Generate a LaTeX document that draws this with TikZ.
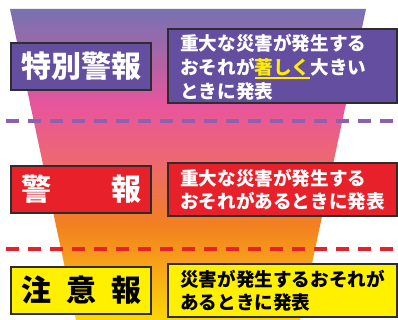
\documentclass[tikz,border=0pt]{standalone}
\usepackage{fontspec}
\newfontfamily\jp{Noto Sans CJK JP}
\definecolor{g0}{HTML}{7672B2}
\definecolor{g1}{HTML}{A267A8}
\definecolor{g2}{HTML}{E8559C}
\definecolor{g3}{HTML}{EE6A6C}
\definecolor{g4}{HTML}{F2801F}
\definecolor{g5}{HTML}{F9A818}
\definecolor{g6}{HTML}{FDD800}
\definecolor{purp}{HTML}{634EA0}
\definecolor{dpurp}{HTML}{8C62B0}
\definecolor{wred}{HTML}{E8202A}
\definecolor{wyel}{HTML}{FFF000}
\definecolor{hiyel}{HTML}{FFEC00}
\definecolor{bord}{HTML}{2D2D2D}
\newcommand{\myul}[1]{\setbox0\hbox{#1}\rlap{\raisebox{-4.5pt}{\rule{\wd0}{1.3pt}}}\box0}
\tikzset{
  titlebox/.style={draw=bord, line width=1.5pt, minimum width=140pt, minimum height=47pt, inner sep=0pt, font=\jp\bfseries\fontsize{30}{30}\selectfont},
  descbox/.style={draw=bord, line width=1.5pt, inner sep=0pt},
  desctext/.style={anchor=west, inner sep=0pt, align=left, font=\jp\bfseries\fontsize{18.6}{23}\selectfont},
  sep/.style={line width=4pt, dash pattern=on 13pt off 9pt}
}
\begin{document}
\begin{tikzpicture}[x=1pt,y=-1pt]
\useasboundingbox (0,0) rectangle (398,320);
% funnel
\begin{scope}
\clip (10,9) -- (366,9) -- (300,320) -- (76,320) -- cycle;
\shade[top color=g0, bottom color=g1] (0,8) rectangle (398,50.5);
\shade[top color=g1, bottom color=g2] (0,50) rectangle (398,105.5);
\shade[top color=g2, bottom color=g3] (0,105) rectangle (398,165.5);
\shade[top color=g3, bottom color=g4] (0,165) rectangle (398,225.5);
\shade[top color=g4, bottom color=g5] (0,225) rectangle (398,270.5);
\shade[top color=g5, bottom color=g6] (0,270) rectangle (398,321);
\end{scope}
% separators
\coordinate (s1a) at (6,121);
\coordinate (s1b) at (398,121);
\coordinate (s2a) at (6,249);
\coordinate (s2b) at (398,249);
\draw[sep, dpurp] (s1a) -- (s1b);
\draw[sep, wred] (s2a) -- (s2b);
% level 1
\node[titlebox, fill=purp, text=white] (t1) at (81,66.5) {特別警報};
\node[descbox, fill=purp, minimum width=229pt, minimum height=74pt] (d1) at (282.5,66) {};
\node[desctext, text=white, font=\jp\bfseries\fontsize{18.6}{24}\selectfont] (d1t) at (180,67) {重大な災害が発生する\\おそれが\textcolor{hiyel}{\myul{著しく}}大きい\\ときに発表};
% level 2
\node[titlebox, fill=wred, text=white] (t2) at (81,189.5) {警\hspace{60pt}報};
\node[descbox, fill=wred, minimum width=229pt, minimum height=53pt] (d2) at (282.5,189.5) {};
\node[desctext, text=white] (d2t) at (180,190) {重大な災害が発生する\\おそれがあるときに発表};
% level 3
\node[titlebox, fill=wyel, text=black] (t3) at (81,290.5) {注\hspace{15pt}意\hspace{15pt}報};
\node[descbox, fill=wyel, minimum width=229pt, minimum height=53pt] (d3) at (282.5,290.5) {};
\node[desctext, text=black] (d3t) at (180,291) {災害が発生するおそれが\\あるときに発表};
\end{tikzpicture}
\end{document}
